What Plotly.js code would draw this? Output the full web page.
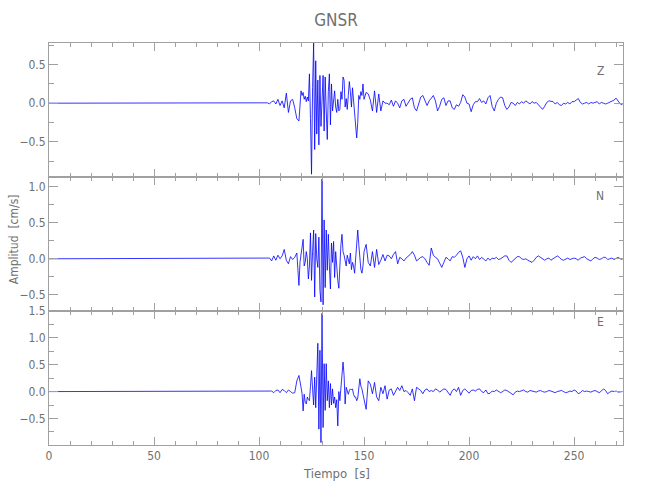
<!DOCTYPE html>
<html>
<head>
<meta charset="utf-8">
<script src="https://cdn.plot.ly/plotly-3.0.1.min.js"></script>
<style>html,body{margin:0;padding:0;background:#fff}#chart{width:650px;height:500px}</style>
</head>
<body>
<div id="chart"></div>
<script>
// Sample times [s]
const tiempo = [
  0, 102,
  103,104,105,106,107,108,109,110,111,112,
  113,114,115,116,117,118,119,
  119.5,120,120.5,121,121.5,122,122.5,123,123.5,124,
  124.5,125,125.5,126,126.5,127,127.5,128,128.5,129,
  129.5,130,130.5,131,131.5,132,132.5,133,133.5,134,
  134.5,135,135.5,136,136.5,137,137.5,138,138.5,139,
  139.5,140,140.5,141,141.5,142,142.5,143,143.5,144,
  144.5,145,145.5,146,146.5,147,147.5,148,148.5,149,
  149.5,150,
  151,152,153,154,155,156,157,158,159,160,
  161,162,163,164,165,166,167,168,169,170,
  171,172,173,174,175,176,177,178,179,180,
  181,182,183,184,185,186,187,188,189,190,
  191,192,193,194,195,196,197,198,199,200,
  201,202,203,204,205,206,207,208,209,210,
  211,212,213,214,215,216,217,218,219,220,
  221,222,223,224,225,226,227,228,229,230,
  231,232,233,234,235,236,237,238,239,240,
  241,242,243,244,245,246,247,248,249,250,
  251,252,253,254,255,256,257,258,259,260,
  261,262,263,264,265,266,267,268,269,270,
  271,272,273
];

// Component Z [cm/s]
const compZ = [
  0, 0,
  0, 0.005, -0.01, 0.02, 0.03, -0.01, 0.05, -0.03, 0.03, -0.06,
  0.13, -0.12, 0.03, 0.05, -0.06, -0.2, -0.23,
  0.05, 0.16, 0.1, 0.14, 0.05, 0.09, 0.02, 0.08, 0.03, 0.38,
  -0.2, -0.92, 0.2, 0.78, -0.6, 0.55, -0.4, 0.3, -0.54, 0.36,
  -0.3, 0.1, 0.36, -0.36, 0.34, -0.1, -0.47, 0.15, 0.38, -0.28,
  0.25, -0.1, 0.05, 0.16, -0.05, -0.12, 0.05, -0.1, -0.08, 0.15,
  0.05, 0.34, 0.3, -0.05, 0.06, -0.08, 0.1, 0.28, 0.15, -0.05,
  0.2, 0.05, -0.1, -0.3, -0.45, -0.25, 0.1, 0.05, 0.15, 0.1,
  0.25, 0.05,
  0.14, 0.12, 0.04, -0.1, 0.16, -0.12, 0.12, -0.1, 0.03, 0.0,
  0.0, -0.02, 0.04, -0.04, 0.03, 0.0, -0.06, 0.03, 0.05, -0.04,
  0.0, 0.05, 0.07, -0.06, -0.1, 0.0, 0.08, 0.1, 0.03, -0.03,
  0.03, 0.06, 0.1, 0.03, -0.1, -0.04, 0.05, 0.07, -0.03, 0.03,
  0.03, -0.06, -0.08, -0.02, -0.04, 0.01, 0.11, 0.08, 0.0, -0.01,
  -0.11, -0.02, 0.02, 0.02, 0.06, 0.01, 0.03, -0.01, 0.07, 0.1,
  -0.04, -0.1, 0.0, 0.05, 0.08, 0.07, -0.03, -0.08, -0.05, 0.01,
  0.0, -0.03, 0.01, -0.01, 0.02, 0.0, 0.03, 0.01, -0.01, 0.02,
  0.0, 0.01, -0.02, -0.05, -0.08, -0.04, 0.01, 0.03, 0.02, 0.02,
  -0.01, 0.01, -0.02, -0.03, 0.0, -0.01, 0.01, -0.01, 0.02, 0.02,
  0.04, 0.06, 0.01, -0.01, 0.0, 0.01, -0.01, 0.01, 0.0, 0.01,
  0.02, -0.01, 0.01, 0.0, -0.01, 0.0, 0.01, 0.02, 0.04, 0.065,
  0.03, -0.01, -0.02
];

// Component N [cm/s]
const compN = [
  0, 0,
  0, 0.0, 0.01, -0.03, 0.04, -0.02, 0.05, 0.0, 0.04, 0.13,
  -0.02, -0.07, 0.03, -0.01, 0.02, 0.08, -0.37,
  -0.05, 0.05, 0.2, 0.27, -0.1, -0.05, 0.1, 0.0, -0.28, -0.1,
  0.36, -0.3, 0.1, 0.4, -0.53, 0.35, 0.0, -0.12, 0.3, -0.44,
  -0.6, 1.11, -0.64, 0.54, -0.4, 0.4, -0.16, 0.34, -0.1, -0.42,
  0.22, -0.05, 0.24, -0.26, 0.1, -0.2, -0.3, -0.41, 0.06, 0.2,
  0.34, 0.1, 0.05, -0.02, -0.1, 0.05, 0.0, -0.07, 0.08, -0.15,
  -0.05, -0.1, -0.2, 0.0, 0.25, 0.4, 0.2, -0.05, -0.15, -0.2,
  -0.1, 0.1,
  0.2, -0.05, -0.1, 0.1, -0.12, 0.13, -0.08, -0.02, 0.06, -0.03,
  0.05, 0.04, 0.0, 0.06, 0.1, -0.07, 0.02, 0.0, -0.03, 0.01,
  0.03, 0.06, 0.1, 0.05, -0.03, 0.0, 0.02, 0.03, 0.0, -0.05,
  -0.09, 0.15, 0.05, 0.02, 0.0, -0.06, -0.12, -0.05, 0.02, 0.0,
  -0.03, 0.03, 0.02, 0.05, 0.09, 0.11, 0.02, -0.12, 0.0, 0.04,
  -0.02, 0.03, 0.0, 0.04, -0.01, 0.02, 0.0, -0.03, 0.01, -0.02,
  0.01, 0.0, 0.02, -0.01, 0.0, 0.02, 0.04, 0.04, -0.02, -0.05,
  -0.02, 0.01, 0.03, 0.03, 0.0, -0.01, 0.0, -0.02, -0.04, -0.05,
  -0.02, 0.02, 0.04, 0.02, -0.01, -0.02, 0.0, 0.01, -0.02, 0.0,
  0.02, 0.04, 0.02, -0.01, -0.02, 0.0, 0.01, -0.01, 0.0, 0.01,
  0.0, -0.02, 0.01, 0.02, 0.03, 0.0, -0.02, -0.03, 0.0, 0.02,
  0.01, -0.01, 0.0, 0.02, 0.02, -0.01, 0.0, 0.01, -0.01, 0.0,
  0.02, 0.0, -0.01
];

// Component E [cm/s]
const compE = [
  0, 0,
  0, 0.0, 0.0, 0.01, -0.02, 0.02, 0.03, -0.02, 0.04, 0.02,
  -0.02, 0.03, 0.0, -0.03, -0.02, 0.2, 0.3,
  0.15, 0.08, -0.04, -0.36, -0.05, -0.2, -0.23, -0.1, -0.15, -0.17,
  0.1, 0.39, 0.05, -0.25, 0.27, -0.3, 0.3, 0.9, -0.7, 0.77,
  -0.95, 1.46, -0.67, 0.52, -0.35, 0.52, -0.17, 0.2, -0.3, 0.15,
  -0.25, 0.05, -0.22, -0.1, -0.3, -0.15, -0.64, 0.0, -0.17, 0.1,
  0.3, 0.55, 0.3, -0.23, 0.08, 0.0, -0.05, 0.02, 0.05, 0.03,
  0.05, -0.05, -0.1, -0.1, -0.17, -0.12, 0.1, 0.24, 0.1, 0.05,
  -0.05, -0.15,
  -0.33, 0.2, 0.14, -0.04, 0.17, -0.1, -0.17, 0.08, -0.04, 0.11,
  -0.14, 0.03, 0.05, -0.07, 0.02, 0.08, 0.02, 0.11, 0.0, 0.02,
  -0.02, -0.07, 0.05, -0.17, 0.08, 0.05, 0.02, -0.04, 0.03, 0.05,
  0.0, 0.02, 0.0, 0.05, 0.03, -0.01, 0.02, 0.05, 0.04, -0.01,
  -0.07, 0.02, 0.05, 0.0, 0.08, -0.07, 0.02, 0.05, 0.0, -0.03,
  0.02, 0.03, 0.01, 0.04, 0.05, 0.0, -0.02, 0.03, -0.04, -0.03,
  0.01, 0.0, 0.03, 0.01, -0.02, 0.0, 0.03, 0.02, -0.01, -0.04,
  -0.06, -0.01, 0.01, 0.0, 0.02, 0.03, 0.0, -0.01, 0.02, 0.01,
  0.0, -0.01, 0.01, 0.02, 0.0, -0.01, 0.0, 0.02, 0.01, -0.01,
  -0.02, 0.0, 0.01, 0.02, 0.0, -0.02, -0.01, 0.01, 0.0, 0.03,
  0.01, -0.04, -0.02, 0.02, 0.0, 0.01, 0.0, -0.01, 0.01, 0.02,
  0.0, -0.02, 0.01, 0.05, 0.02, -0.04, -0.01, 0.01, 0.0, 0.01,
  -0.01, 0.0, 0.0
];

const componentLabels = ['Z', 'N', 'E'];
const xTickVals = [0, 50, 100, 150, 200, 250];

const FONT = 'Liberation Sans Narrow, DejaVu Sans Condensed, Arial Narrow, sans-serif';
const AXC = '#a0a0a0';
const TXC = '#707070';
const lineStyle = {color: 'rgb(0,0,255)', width: 0.8};

const traces = [
  {x: tiempo, y: compE, xaxis: 'x', yaxis: 'y', type: 'scatter', mode: 'lines', line: lineStyle, hoverinfo: 'skip'},
  {x: tiempo, y: compN, xaxis: 'x2', yaxis: 'y2', type: 'scatter', mode: 'lines', line: lineStyle, hoverinfo: 'skip'},
  {x: tiempo, y: compZ, xaxis: 'x3', yaxis: 'y3', type: 'scatter', mode: 'lines', line: lineStyle, hoverinfo: 'skip'}
];

function xAx(anchor, labels) {
  return {
    anchor: anchor, range: [0, 273.3], showgrid: false, zeroline: false,
    showline: true, linecolor: AXC, linewidth: 1, mirror: 'ticks',
    ticks: 'inside', ticklen: 8, tickcolor: AXC, tickwidth: 1,
    tickvals: xTickVals, showticklabels: labels,
    tickfont: {family: FONT, size: 12, color: TXC},
    minor: {ticks: 'inside', dtick: 10, tick0: 0, ticklen: 4, tickcolor: AXC, tickwidth: 1, showgrid: false}
  };
}
function yAx(domain, range) {
  return {
    domain: domain, range: range, anchor: 'x', showgrid: false, zeroline: false,
    showline: true, linecolor: AXC, linewidth: 1, mirror: 'ticks',
    ticks: 'inside', ticklen: 9, tickcolor: AXC, tickwidth: 1,
    dtick: 0.5, tick0: 0, tickformat: '.1f',
    tickfont: {family: FONT, size: 12, color: TXC},
    minor: {ticks: 'inside', dtick: 0.25, tick0: 0, ticklen: 4.5, tickcolor: AXC, tickwidth: 1, showgrid: false}
  };
}

const yE = yAx([0, 0.3333], [-0.995, 1.501]);
const yN = yAx([0.3333, 0.6667], [-0.726, 1.137]); yN.anchor = 'x2';
const yZ = yAx([0.6667, 1], [-0.956, 0.78]); yZ.anchor = 'x3';
const x2 = xAx('y2', false); x2.matches = 'x';
const x3 = xAx('y3', false); x3.matches = 'x';

const layout = {
  width: 650, height: 500,
  margin: {l: 49, r: 27, t: 43, b: 55},
  paper_bgcolor: '#ffffff', plot_bgcolor: '#ffffff',
  showlegend: false,
  title: {text: 'GNSR', x: 0.5, xref: 'paper', xanchor: 'center', y: 0.96, yref: 'container', yanchor: 'middle',
          font: {family: FONT, size: 17, color: TXC}},
  xaxis: xAx('y', true),
  xaxis2: x2, xaxis3: x3,
  yaxis: yE, yaxis2: yN, yaxis3: yZ,
  annotations: [
    {text: componentLabels[0], xref: 'paper', yref: 'paper', x: 0.970, y: 0.953, showarrow: false, font: {family: FONT, size: 12, color: TXC}},
    {text: componentLabels[1], xref: 'paper', yref: 'paper', x: 0.970, y: 0.619, showarrow: false, font: {family: FONT, size: 12, color: TXC}},
    {text: componentLabels[2], xref: 'paper', yref: 'paper', x: 0.970, y: 0.284, showarrow: false, font: {family: FONT, size: 12, color: TXC}},
    {text: 'Amplitud  [cm/s]', xref: 'paper', yref: 'paper', x: -0.061, y: 0.512, textangle: -90, showarrow: false,
     xanchor: 'center', yanchor: 'middle', font: {family: FONT, size: 12, color: TXC}},
    {text: 'Tiempo  [s]', xref: 'paper', yref: 'paper', x: 0.5, y: -0.072, showarrow: false,
     xanchor: 'center', yanchor: 'middle', font: {family: FONT, size: 13, color: TXC}}
  ]
};

Plotly.newPlot('chart', traces, layout, {staticPlot: true, displayModeBar: false});
</script>
</body>
</html>
